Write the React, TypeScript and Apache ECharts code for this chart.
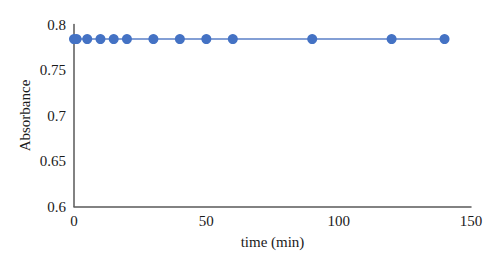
import React, { useEffect, useRef } from "react";
import * as echarts from "echarts";

const timeMin = [0, 1, 5, 10, 15, 20, 30, 40, 50, 60, 90, 120, 140];
const absorbance = [0.784, 0.784, 0.784, 0.784, 0.784, 0.784, 0.784, 0.784, 0.784, 0.784, 0.784, 0.784, 0.784];
const xTitle = "time (min)";
const yTitle = "Absorbance";

export default function App() {
  const ref = useRef<HTMLDivElement>(null);
  useEffect(() => {
    const chart = echarts.init(ref.current!, null, { renderer: "svg" });
    const font = "Liberation Serif";
    chart.setOption({
      animation: false,
      textStyle: { fontFamily: font },
      grid: { left: 74, right: 29, top: 24.5, bottom: 61.5 },
      xAxis: {
        type: "value",
        min: 0,
        max: 150,
        interval: 50,
        name: xTitle,
        nameLocation: "middle",
        nameGap: 28,
        nameMoveOverlap: false,
        nameTextStyle: { fontFamily: font, fontSize: 15, color: "#1a1a1a" },
        axisLine: { show: true, lineStyle: { color: "#595959", width: 1.5 } },
        axisTick: { show: false },
        splitLine: { show: false },
        axisLabel: { fontFamily: font, fontSize: 15, color: "#1a1a1a", margin: 7 },
      },
      yAxis: {
        type: "value",
        min: 0.6,
        max: 0.8,
        interval: 0.05,
        name: yTitle,
        nameLocation: "middle",
        nameGap: 42,
        nameMoveOverlap: false,
        nameTextStyle: { fontFamily: font, fontSize: 15, color: "#1a1a1a" },
        axisLine: { show: true, lineStyle: { color: "#595959", width: 1.5 } },
        axisTick: { show: false },
        splitLine: { show: false },
        axisLabel: { fontFamily: font, fontSize: 15, color: "#1a1a1a", margin: 8 },
      },
      series: [
        {
          type: "line",
          data: timeMin.map((t, i) => [t, absorbance[i]]),
          symbol: "circle",
          symbolSize: 10,
          itemStyle: { color: "#4472C4" },
          lineStyle: { color: "#5b80c8", width: 1.5 },
        },
      ],
    });
    return () => chart.dispose();
  }, []);
  return <div ref={ref} style={{ width: 500, height: 268, position: "absolute", left: 0, top: 0 }} />;
}
